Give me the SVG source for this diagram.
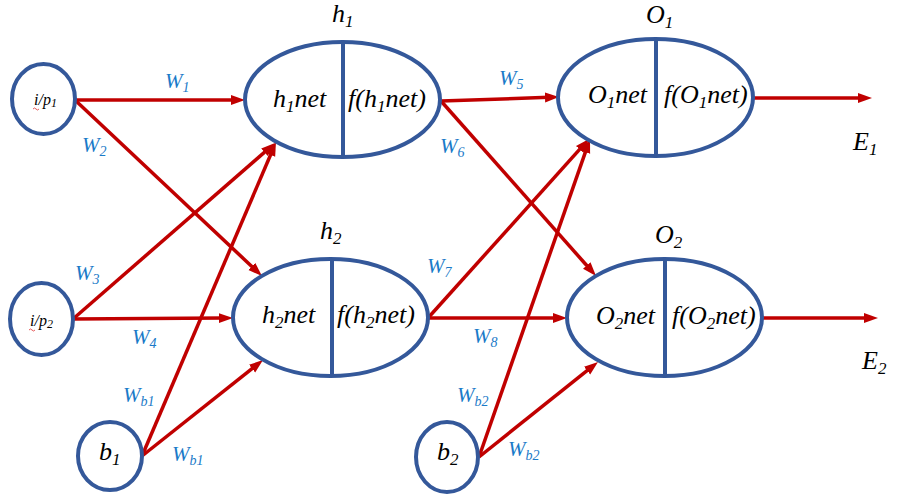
<svg xmlns="http://www.w3.org/2000/svg" width="902" height="503" viewBox="0 0 902 503">
<style>
.nd{fill:#fff;stroke:#34589a;stroke-width:4}
.dv{stroke:#34589a;stroke-width:4}
.ar{stroke:#c00000;stroke-width:3.5;fill:none;marker-end:url(#ah)}
</style>
<defs>
<marker id="ah" markerUnits="userSpaceOnUse" markerWidth="14" markerHeight="12" refX="4" refY="5" orient="auto">
<path d="M0,0 L14,5 L0,10 z" fill="#c00000"/>
</marker>
</defs>
<rect width="902" height="503" fill="#fff"/>
<g id="connectors">
<line class="ar" x1="75" y1="100" x2="235" y2="100"/>
<line class="ar" x1="75" y1="100" x2="254.7" y2="269.2"/>
<line class="ar" x1="73" y1="319" x2="267.5" y2="149.6"/>
<line class="ar" x1="73" y1="319" x2="223" y2="318.1"/>
<line class="ar" x1="142" y1="456" x2="272.1" y2="151.2"/>
<line class="ar" x1="142" y1="456" x2="255.2" y2="366.2"/>
<line class="ar" x1="441" y1="101" x2="549" y2="97.3"/>
<line class="ar" x1="441" y1="101" x2="589.4" y2="268.5"/>
<line class="ar" x1="428" y1="318" x2="582.3" y2="146.4"/>
<line class="ar" x1="428" y1="318" x2="557" y2="318"/>
<line class="ar" x1="479" y1="457" x2="586.7" y2="148.4"/>
<line class="ar" x1="479" y1="457" x2="590.2" y2="368.2"/>
<line class="ar" x1="753" y1="98" x2="862" y2="98"/>
<line class="ar" x1="762" y1="318" x2="868" y2="318"/>
</g>
<g id="weights" font-family="Liberation Serif, serif" font-style="italic" fill="#1a7ac8" font-size="21">
<text x="165" y="88">W<tspan font-size="14" dy="4">1</tspan></text>
<text x="82" y="152">W<tspan font-size="14" dy="4">2</tspan></text>
<text x="75" y="280">W<tspan font-size="14" dy="4">3</tspan></text>
<text x="132" y="344">W<tspan font-size="14" dy="4">4</tspan></text>
<text x="123" y="402">W<tspan font-size="14" dy="4">b1</tspan></text>
<text x="172" y="461">W<tspan font-size="14" dy="4">b1</tspan></text>
<text x="499" y="85">W<tspan font-size="14" dy="4">5</tspan></text>
<text x="440" y="153">W<tspan font-size="14" dy="4">6</tspan></text>
<text x="427" y="273">W<tspan font-size="14" dy="4">7</tspan></text>
<text x="473" y="343">W<tspan font-size="14" dy="4">8</tspan></text>
<text x="457" y="402">W<tspan font-size="14" dy="4">b2</tspan></text>
<text x="508" y="456">W<tspan font-size="14" dy="4">b2</tspan></text>
</g>
<g id="nodes" font-family="Liberation Serif, serif" font-style="italic" fill="#000" font-size="26">
<g id="ip1">
<ellipse class="nd" cx="43.5" cy="99" rx="31.5" ry="35"/>
<text x="34" y="105" font-size="16">i/p<tspan font-size="12" dy="2">1</tspan></text>
<path d="M33,109 q1.5,-2 3,0 t3,0" stroke="#e03030" stroke-width="0.8" fill="none"/>
</g>
<g id="ip2">
<ellipse class="nd" cx="41.5" cy="319" rx="31.5" ry="36"/>
<text x="30" y="326" font-size="16">i/p<tspan font-size="12" dy="2">2</tspan></text>
<path d="M29,330 q1.5,-2 3,0 t3,0" stroke="#e03030" stroke-width="0.8" fill="none"/>
</g>
<g id="b1">
<ellipse class="nd" cx="110" cy="456" rx="32" ry="34"/>
<text x="99" y="460">b<tspan font-size="17" dy="5">1</tspan></text>
</g>
<g id="b2">
<ellipse class="nd" cx="447" cy="457" rx="31" ry="35"/>
<text x="437" y="460">b<tspan font-size="17" dy="5">2</tspan></text>
</g>
<g id="h1">
<ellipse class="nd" cx="342.5" cy="99.5" rx="97.5" ry="57.5"/>
<line class="dv" x1="343" y1="42" x2="343" y2="157"/>
<text x="332" y="22">h<tspan font-size="17" dy="5">1</tspan></text>
<text x="273" y="107">h<tspan font-size="17" dy="5">1</tspan><tspan dy="-5">net</tspan></text>
<text x="348" y="107">f(h<tspan font-size="17" dy="5">1</tspan><tspan dy="-5">net)</tspan></text>
</g>
<g id="h2">
<ellipse class="nd" cx="330.5" cy="317.5" rx="97.5" ry="58.5"/>
<line class="dv" x1="332" y1="259" x2="332" y2="376"/>
<text x="320" y="239">h<tspan font-size="17" dy="5">2</tspan></text>
<text x="262" y="323">h<tspan font-size="17" dy="5">2</tspan><tspan dy="-5">net</tspan></text>
<text x="337" y="323">f(h<tspan font-size="17" dy="5">2</tspan><tspan dy="-5">net)</tspan></text>
</g>
<g id="O1">
<ellipse class="nd" cx="655.5" cy="97.5" rx="97.5" ry="58.5"/>
<line class="dv" x1="656" y1="39" x2="656" y2="156"/>
<text x="646" y="23">O<tspan font-size="17" dy="5">1</tspan></text>
<text x="588" y="103">O<tspan font-size="17" dy="5">1</tspan><tspan dy="-5">net</tspan></text>
<text x="664" y="103">f(O<tspan font-size="17" dy="5">1</tspan><tspan dy="-5">net)</tspan></text>
</g>
<g id="O2">
<ellipse class="nd" cx="664.5" cy="317.5" rx="97.5" ry="58.5"/>
<line class="dv" x1="665" y1="259" x2="665" y2="376"/>
<text x="655" y="243">O<tspan font-size="17" dy="5">2</tspan></text>
<text x="596" y="324">O<tspan font-size="17" dy="5">2</tspan><tspan dy="-5">net</tspan></text>
<text x="672" y="324">f(O<tspan font-size="17" dy="5">2</tspan><tspan dy="-5">net)</tspan></text>
</g>
<g id="E1"><text x="853" y="150">E<tspan font-size="17" dy="5">1</tspan></text></g>
<g id="E2"><text x="862" y="369">E<tspan font-size="17" dy="5">2</tspan></text></g>
</g>
</svg>
